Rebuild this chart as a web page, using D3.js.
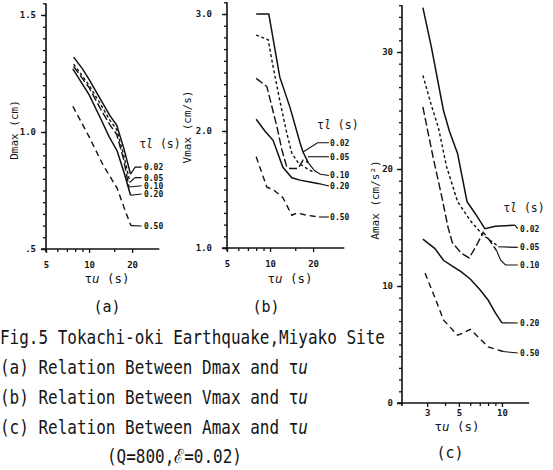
<!DOCTYPE html>
<html>
<head>
<meta charset="utf-8">
<script src="https://cdn.jsdelivr.net/npm/d3@7"></script>
<style>
body { margin: 0; background: #fff; }
text { font-family: "DejaVu Sans Mono", "Liberation Mono", monospace; fill: #151515; }
</style>
</head>
<body>
<svg id="fig" width="553" height="470"></svg>
<script>
// tau_l values of the five curves
var tauLabels = ["0.02", "0.05", "0.10", "0.20", "0.50"];

// (a) Dmax (cm) vs tau_u (s)
var dmax02 = [[7.8,1.32],[9,1.27],[10,1.225],[12,1.14],[14,1.07],[15.6,1.03],[17.5,0.93],[19.5,0.82]];
var dmax05 = [[7.8,1.29],[10,1.2],[12,1.12],[14,1.05],[15.6,1.01],[17.5,0.9],[19.3,0.785]];
var dmax10 = [[7.8,1.28],[10,1.19],[12,1.1],[14,1.03],[15.6,0.99],[17.5,0.88],[19,0.765]];
var dmax20 = [[7.7,1.27],[10,1.16],[12,1.06],[13.8,0.98],[15.7,0.92],[17.5,0.83],[19.5,0.73]];
var dmax50 = [[7.7,1.11],[10,0.98],[12.5,0.86],[15.7,0.76],[17.5,0.68],[19.6,0.6]];
var dmaxLabelV = [0.85, 0.805, 0.77, 0.735, 0.598];
var dmaxLeaders = [
  [[19.5,0.82],[21,0.85],[23.3,0.85]],
  [[19.3,0.785],[21,0.805],[23.3,0.805]],
  [[19,0.765],[23.3,0.77]],
  [[19.5,0.73],[23.3,0.735]],
  [[19.6,0.6],[23.3,0.598]]
];

// (b) Vmax (cm/s) vs tau_u (s)
var vmax02 = [[8,3.0],[9.8,3.0],[11.7,2.46],[13.8,2.2],[16.2,1.9],[17,1.82],[18.5,1.73]];
var vmax05 = [[8,2.82],[9.7,2.78],[10.5,2.55],[11.7,2.26],[13.1,1.98],[14.2,1.81],[15.7,1.73],[17.5,1.69],[20,1.65]];
var vmax10 = [[8,2.45],[9.5,2.38],[11.2,2.03],[12.1,1.84],[13.1,1.69],[13.8,1.68],[15.7,1.68],[17,1.75],[18.5,1.73]];
var vmax20 = [[8,2.1],[9.2,2.0],[10.5,1.92],[12.3,1.69],[14.2,1.6],[16.2,1.58],[19,1.565],[22,1.55]];
var vmax50 = [[8,1.78],[9.5,1.52],[10.5,1.5],[12.3,1.43],[14.2,1.28],[15.4,1.3],[18,1.28],[22,1.265]];
var vmaxLabelV = [1.9, 1.78, 1.62, 1.53, 1.265];
var vmaxLeaders = [
  [[17,1.82],[21.5,1.9],[25.8,1.9]],
  [[18.4,1.78],[25.8,1.78]],
  [[18.5,1.73],[20.5,1.66],[22.5,1.63],[25.8,1.62]],
  [[22,1.55],[25.8,1.53]],
  [[22,1.265],[25.8,1.265]]
];

// (c) Amax (cm/s2) vs tau_u (s)
var amax02 = [[2.8,33.8],[3.2,30.5],[3.9,25],[4.3,23.2],[4.9,21.3],[5.7,17.2],[6.5,16.2],[7.6,14.9],[9,15.1],[12.3,15.2]];
var amax05 = [[2.8,28],[3.2,25.5],[3.6,23.5],[4.1,20.2],[4.9,17.2],[6,15.6],[7.3,14.4],[9.4,13.4]];
var amax10 = [[2.8,25.3],[3.3,21],[3.8,17.6],[4.2,15],[4.5,13.7],[5.2,12.8],[5.9,12.4],[6.6,13.4],[7.4,14.6],[8.2,13.9],[9.2,13.0]];
var amax20 = [[2.8,14.0],[3.4,13.2],[3.9,12.2],[4.5,11.7],[5.2,11.2],[6,10.6],[7,9.7],[8,8.8],[9,7.7],[10,6.85]];
var amax50 = [[2.9,11.1],[3.4,9.0],[3.9,7.1],[4.4,6.4],[4.9,5.8],[5.4,6.0],[6,6.3],[7,5.5],[8,4.8],[10.2,4.4]];
var amaxLabelV = [14.9, 13.3, 11.8, 6.84, 4.27];
var amaxLeaders = [
  [[12.3,15.2],[12.9,14.9]],
  [[9.4,13.35],[12.9,13.3]],
  [[9.2,13.0],[9.8,12.2],[10.6,11.8],[12.9,11.8]],
  [[10,6.85],[12.9,6.84]],
  [[10.2,4.4],[12.9,4.27]]
];

// line style per tau_l
var dashes = [null, "3,2.5", "8,3", null, "6,4"];

var svg = d3.select("#fig");

var panels = [
  {
    series: [dmax02, dmax05, dmax10, dmax20, dmax50], labelV: dmaxLabelV, leaders: dmaxLeaders,
    xDomain: [5, 30], xRange: [46, 157.3], yDomain: [0.5, 1.55], yRange: [249, 3.3],
    xTicks: [5, 10, 20], xMinor: [6, 7, 8, 9, 15], yTicks: [0.5, 1.0, 1.5], yMinorStep: 0.05,
    yFmt: function(v) { return v == 0.5 ? ".5" : d3.format(".1f")(v); },
    yTitle: "Dmax (cm)", yTitlePos: [14, 130], yGap: 5, xPad: 9,
    labelX: 24.2, header: [22.4, 0.95], tauPos: [107, 283], letter: "(a)", letterPos: [107, 312]
  },
  {
    series: [vmax02, vmax05, vmax10, vmax20, vmax50], labelV: vmaxLabelV, leaders: vmaxLeaders,
    xDomain: [5, 32], xRange: [227, 342.3], yDomain: [1, 3.1], yRange: [248, 2.3],
    xTicks: [5, 10, 20], xMinor: [6, 7, 8, 9, 15], yTicks: [1, 2, 3], yMinorStep: 0.1,
    yFmt: d3.format(".1f"),
    yTitle: "Vmax (cm/s)", yTitlePos: [187, 127], yGap: 10, xPad: 9,
    labelX: 26.3, header: [21.3, 2.05], tauPos: [290, 283], letter: "(b)", letterPos: [266, 312]
  },
  {
    series: [amax02, amax05, amax10, amax20, amax50], labelV: amaxLabelV, leaders: amaxLeaders,
    xDomain: [2, 15], xRange: [402, 527.1], yDomain: [0, 34], yRange: [403, 5.2],
    xTicks: [3, 5, 10], xMinor: [4, 6, 7, 8, 9], yTicks: [0, 10, 20, 30], yMinorStep: 1,
    yFmt: d3.format("d"),
    yTitle: "Amax (cm/s²)", yTitlePos: [375, 200], yGap: 4, xPad: 3,
    labelX: 13.4, header: [10.2, 16.7], tauPos: [457, 431], letter: "(c)", letterPos: [450, 458]
  }
];

panels.forEach(function(p) {
  var x = d3.scaleLog().domain(p.xDomain).range(p.xRange);
  var y = d3.scaleLinear().domain(p.yDomain).range(p.yRange);
  var g = svg.append("g");

  // axis lines, running a little past the origin
  var x0 = p.xRange[0], y0 = p.yRange[0];
  g.append("line").attr("x1", x0 - 5).attr("x2", p.xRange[1] + 2)
    .attr("y1", y0).attr("y2", y0).attr("stroke", "#111").attr("stroke-width", 1.6);
  g.append("line").attr("x1", x0).attr("x2", x0)
    .attr("y1", y0 + 3).attr("y2", p.yRange[1]).attr("stroke", "#111").attr("stroke-width", 1.6);

  var yMinor = d3.range(p.yDomain[0], p.yDomain[1] + 1e-9, p.yMinorStep);

  var ax = g.append("g").attr("transform", "translate(0," + y0 + ")")
    .call(d3.axisBottom(x).tickValues(p.xMinor).tickSize(3).tickFormat(""));
  ax.select(".domain").remove();
  var axM = g.append("g").attr("transform", "translate(0," + y0 + ")")
    .call(d3.axisBottom(x).tickValues(p.xTicks).tickSize(4).tickPadding(p.xPad).tickFormat(d3.format("d")));
  axM.select(".domain").remove();

  var ay = g.append("g").attr("transform", "translate(" + x0 + ",0)")
    .call(d3.axisLeft(y).tickValues(yMinor).tickSize(3).tickFormat(""));
  ay.select(".domain").remove();
  var ayM = g.append("g").attr("transform", "translate(" + x0 + ",0)")
    .call(d3.axisLeft(y).tickValues(p.yTicks).tickSize(5).tickPadding(p.yGap).tickFormat(p.yFmt));
  ayM.select(".domain").remove();

  g.selectAll(".tick line").attr("stroke", "#111").attr("stroke-width", 1.3);
  g.selectAll(".tick text").attr("font-size", 9).attr("font-weight", "bold")
    .attr("font-family", "DejaVu Sans Mono, monospace").attr("fill", "#151515");

  // curves
  var line = d3.line().x(function(d) { return x(d[0]); }).y(function(d) { return y(d[1]); });
  g.selectAll("path.curve").data(p.series).enter().append("path")
    .attr("class", "curve")
    .attr("d", line)
    .attr("fill", "none")
    .attr("stroke", "#111")
    .attr("stroke-width", function(d, i) { return (i == 0 || i == 3) ? 1.5 : 1.4; })
    .attr("stroke-dasharray", function(d, i) { return dashes[i]; });

  // leader lines to the tau_l labels
  g.selectAll("path.leader").data(p.leaders).enter().append("path")
    .attr("class", "leader")
    .attr("d", line)
    .attr("fill", "none")
    .attr("stroke", "#111")
    .attr("stroke-width", 1.1);

  g.selectAll("text.lab").data(tauLabels).enter().append("text")
    .attr("class", "lab")
    .attr("x", x(p.labelX))
    .attr("y", function(d, i) { return y(p.labelV[i]) + 3; })
    .attr("font-size", 8)
    .attr("font-weight", "bold")
    .text(function(d) { return d; });

  var hd = g.append("text")
    .attr("x", x(p.header[0]))
    .attr("y", y(p.header[1]) + 4)
    .attr("font-size", 11.5);
  hd.append("tspan").text("τ");
  hd.append("tspan").attr("font-style", "italic").text("l");
  hd.append("tspan").text(" (s)");

  // axis titles
  g.append("text")
    .attr("transform", "translate(" + p.yTitlePos[0] + "," + p.yTitlePos[1] + ") rotate(-90)")
    .attr("text-anchor", "middle")
    .attr("dy", "0.35em")
    .attr("font-size", 11)
    .text(p.yTitle);

  var tu = g.append("text")
    .attr("x", p.tauPos[0]).attr("y", p.tauPos[1])
    .attr("text-anchor", "middle")
    .attr("font-size", 12.5);
  tu.append("tspan").text("τ");
  tu.append("tspan").attr("font-style", "italic").text("u");
  tu.append("tspan").text(" (s)");

  g.append("text")
    .attr("x", p.letterPos[0]).attr("y", p.letterPos[1])
    .attr("text-anchor", "middle")
    .attr("font-size", 15)
    .text(p.letter);
});

// caption
var captionLines = [
  ["Fig.5 Tokachi-oki Earthquake,Miyako Site", ""],
  ["(a) Relation Between Dmax and τ", "u"],
  ["(b) Relation Between Vmax and τ", "u"],
  ["(c) Relation Between Amax and τ", "u"]
];
var captionY = [344, 374, 404, 434];

svg.selectAll("text.cap").data(captionLines).enter().append("text")
  .attr("class", "cap")
  .attr("transform", function(d, i) { return "translate(0," + captionY[i] + ") scale(1,1.22)"; })
  .attr("font-size", 16)
  .each(function(d) {
    var t = d3.select(this);
    t.append("tspan").text(d[0]);
    if (d[1]) t.append("tspan").attr("font-style", "italic").text(d[1]);
  });

svg.append("text")
  .attr("transform", "translate(107,463) scale(1,1.22)")
  .attr("font-size", 16)
  .text("(Q=800,ℰ=0.02)");
</script>
</body>
</html>
